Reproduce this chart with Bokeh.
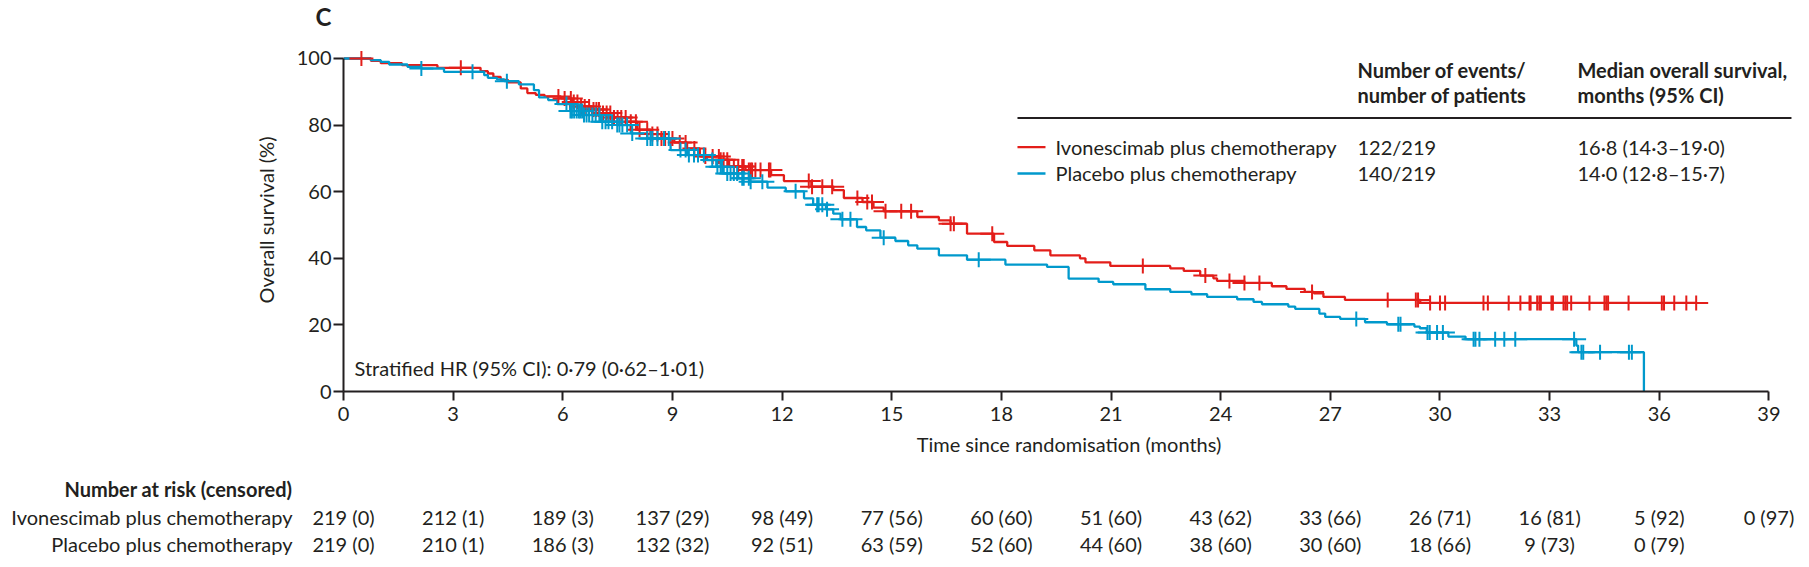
import numpy as np
from bokeh.plotting import figure
from bokeh.models import Range1d, FixedTicker, Label, ColumnDataSource
from bokeh.core.properties import value
from bokeh.embed import file_html
from bokeh.resources import INLINE

# ---------------- data ----------------
ivo_t = [0, 0.75, 1.02, 1.6, 2.57, 3.75, 3.95, 4.1, 4.3, 4.5, 4.85, 5.03, 5.26, 5.5, 5.95,
         6.25, 6.5, 6.8, 7.0, 7.4, 7.75, 8.04, 8.4, 8.7, 9.05, 9.4, 9.75, 10.3, 10.55, 11.0,
         11.7, 12.05, 12.8, 13.4, 13.69, 14.2, 14.5, 14.78, 15.7, 16.29, 16.61, 17.06, 17.8,
         18.16, 18.9, 19.34, 20.15, 20.3, 20.98, 22.62, 22.99, 23.44, 23.8, 23.9, 24.65, 25.4,
         25.8, 26.3, 26.55, 26.81, 27.4, 29.46, 37.01]
ivo_s = [100, 99.3, 98.6, 98.0, 97.2, 96.2, 95.5, 94.5, 93.6, 92.8, 91.0, 89.6, 89.1, 88.6, 88.0,
         86.9, 85.6, 84.7, 83.6, 82.3, 81.0, 78.6, 77.3, 76.0, 74.8, 73.0, 70.6, 69.6, 67.6, 66.5,
         65.0, 63.2, 61.5, 60.5, 58.1, 56.9, 55.2, 54.1, 52.4, 51.4, 50.4, 47.4, 44.9,
         43.7, 42.4, 40.9, 40.0, 38.8, 37.7, 37.0, 36.2, 34.8, 34.0, 33.2, 32.6, 31.6,
         30.8, 29.9, 29.5, 28.4, 27.5, 26.6, 26.6]
ivo_cens = [0.49, 3.21, 5.88,
            6.05, 6.22, 6.3, 6.4, 6.5, 6.6, 6.72, 6.84, 6.92, 6.99, 7.1, 7.2, 7.3, 7.4, 7.5, 7.6,
            7.72, 7.86, 8.0, 8.1, 8.31, 8.45, 8.59, 8.7, 8.8, 9.0,
            9.2, 9.36, 9.6, 9.9, 10.1, 10.27, 10.32, 10.4, 10.5, 10.68, 10.8, 10.91, 10.95, 11.09,
            11.14, 11.18, 11.27, 11.41, 11.64, 11.68,
            12.73, 12.82, 13.1, 13.37, 14.06, 14.33, 14.46, 14.83,
            15.26, 15.53, 16.61, 16.7, 17.75,
            21.87, 23.58, 24.24, 24.65, 25.06, 26.5,
            28.57, 29.34, 29.4, 29.73, 30.0,
            30.14, 31.19, 31.31, 31.88, 32.2, 32.45, 32.48, 32.66, 32.72, 32.76,
            33.05, 33.09, 33.38, 33.43, 33.48, 33.59, 34.09, 34.5, 34.55, 34.6, 35.16,
            36.07, 36.13, 36.41, 36.74, 37.01]

pla_t = [0, 0.75, 1.02, 1.25, 1.75, 2.13, 2.75, 3.85, 3.95, 4.2, 4.4, 4.8, 5.21, 5.35, 5.6, 5.85,
         6.2, 6.58, 7.04, 7.49, 7.86, 8.31, 8.95, 9.4, 9.95, 10.2, 10.4, 10.8, 11.1, 11.6, 12.1,
         12.6, 12.85, 13.2, 13.4, 13.6, 14.05, 14.3, 14.69, 15.1, 15.45, 15.7, 16.29, 17.06,
         18.11, 19.25, 19.84, 20.66, 21.06, 21.94, 22.62, 23.2, 23.63, 24.45, 24.9, 25.13,
         25.85, 26.04, 26.7, 26.86, 27.27, 27.95, 28.55, 29.3, 29.45, 29.64, 30.23, 30.7,
         33.73, 33.78, 35.58]
pla_s = [100, 99.5, 99.0, 98.2, 97.5, 97.0, 96.0, 95.0, 94.2, 93.7, 93.2, 92.2, 90.5, 88.3, 87.5, 86.3,
         84.2, 83.0, 81.0, 80.0, 77.5, 76.0, 72.5, 71.0, 69.5, 67.5, 65.5, 64.0, 63.0, 61.2, 60.1,
         58.0, 56.1, 54.7, 53.4, 51.7, 49.4, 48.4, 46.2, 45.2, 43.9, 42.9, 40.9, 39.6,
         38.1, 37.4, 33.9, 32.9, 32.2, 30.7, 29.9, 29.2, 28.4, 27.7, 26.9, 26.2,
         25.5, 24.8, 23.4, 22.4, 21.8, 20.8, 20.2, 19.5, 19.0, 17.7, 16.5, 15.7,
         13.8, 11.8, 0]
pla_cens = [2.13, 3.53, 4.47,
            6.1, 6.21, 6.25, 6.31, 6.38, 6.44, 6.48, 6.53, 6.58, 6.65, 6.72, 6.81, 6.9, 7.0, 7.08,
            7.17, 7.25, 7.35, 7.49, 7.55, 7.63, 7.76, 7.9, 8.31, 8.4, 8.45, 8.59, 8.77, 8.9,
            9.22, 9.36, 9.45, 9.59, 9.7, 9.86, 10.09, 10.23, 10.32, 10.36, 10.5, 10.59, 10.68,
            10.77, 10.91, 10.95, 11.09, 11.14, 11.46,
            12.37, 12.96, 13.0, 13.1, 13.23, 13.65, 13.87, 14.78, 17.38,
            27.71, 28.86, 28.92, 29.66, 29.72, 29.92,
            30.08, 30.92, 30.97, 31.08, 31.51, 31.76, 32.06,
            33.67, 33.87, 33.92, 34.38, 35.17, 35.25]

risk_times = [0, 3, 6, 9, 12, 15, 18, 21, 24, 27, 30, 33, 36, 39]
ivo_risk = [219, 212, 189, 137, 98, 77, 60, 51, 43, 33, 26, 16, 5, 0]
ivo_risk_cens = [0, 1, 3, 29, 49, 56, 60, 60, 62, 66, 71, 81, 92, 97]
pla_risk = [219, 210, 186, 132, 92, 63, 52, 44, 38, 30, 18, 9, 0]
pla_risk_cens = [0, 1, 3, 32, 51, 59, 60, 60, 60, 60, 66, 73, 79]

x_ticks = list(range(0, 40, 3))
y_ticks = [0, 20, 40, 60, 80, 100]

series_names = ["Ivonescimab plus chemotherapy", "Placebo plus chemotherapy"]
events_text = ["122/219", "140/219"]
median_text = ["16·8 (14·3–19·0)", "14·0 (12·8–15·7)"]
hr_text = "Stratified HR (95% CI): 0·79 (0·62–1·01)"
panel_letter = "C"

# ---------------- style ----------------
FONT = "Lato"
FS = "20px"
INK = "#231f20"
RED = "#e31e1a"
BLUE = "#0099cc"

W = 1808
H_TOP = 40      # strip holding the panel letter
H_MAIN = 438    # survival plot (frame top at page y 48, bottom at 391)
H_RISK = 88     # number-at-risk table

# page-pixel -> data helpers used only to place annotation texts
X0, PXM = 343.0, 36.55     # page x of t=0, px per month
Y0, PXP = 391.0, 3.330     # page y of 0 %, px per percent
def tx(X):
    return (X - X0) / PXM
def sy(Y):
    return (Y0 - Y) / PXP

def bare(fig):
    fig.outline_line_color = None
    fig.xgrid.visible = False
    fig.ygrid.visible = False
    fig.background_fill_color = "white"
    fig.border_fill_color = "white"
    fig.title.visible = False

# ---------------- top strip: panel letter ----------------
top = figure(width=W, height=H_TOP, x_range=Range1d(0, W), y_range=Range1d(H_TOP, 0),
             x_axis_type=None, y_axis_type=None, output_backend="svg", toolbar_location=None,
             min_border=0)
bare(top)
top.text(x=[315], y=[15.5], text=[panel_letter], text_font=value(FONT), text_font_size="24px",
         text_font_style="bold", text_color=INK, text_align="left", text_baseline="middle")

# ---------------- main survival plot ----------------
p = figure(width=W, height=H_MAIN, x_range=Range1d(0, 39.7), y_range=Range1d(0, 103),
           output_backend="svg", toolbar_location=None,
           min_border_left=343, min_border_right=14, min_border_top=8, min_border_bottom=87)
bare(p)

for ax in (p.xaxis[0], p.yaxis[0]):
    ax.axis_line_color = INK
    ax.axis_line_width = 2
    ax.major_tick_line_color = INK
    ax.major_tick_line_width = 2
    ax.major_tick_in = 0
    ax.minor_tick_line_color = None
    ax.major_label_text_font = FONT
    ax.major_label_text_font_size = FS
    ax.major_label_text_color = INK
    ax.axis_label_text_font = FONT
    ax.axis_label_text_font_size = FS
    ax.axis_label_text_font_style = "normal"
    ax.axis_label_text_color = INK

p.xaxis.ticker = FixedTicker(ticks=x_ticks)
p.yaxis.ticker = FixedTicker(ticks=y_ticks)
p.xaxis.bounds = (0, 39)
p.yaxis.bounds = (0, 100)
p.xaxis.major_tick_out = 9
p.yaxis.major_tick_out = 10
p.xaxis.major_label_standoff = 6
p.yaxis.major_label_standoff = 2
p.xaxis.axis_label = "Time since randomisation (months)"
p.yaxis.axis_label = "Overall survival (%)"
p.xaxis.axis_label_standoff = 8
p.yaxis.axis_label_standoff = 16

def surv_at(times, surv, c):
    idx = np.searchsorted(np.asarray(times), np.asarray(c), side="right") - 1
    return np.asarray(surv)[idx]

p.step(ivo_t, ivo_s, mode="after", line_color=RED, line_width=2.3)
p.step(pla_t, pla_s, mode="after", line_color=BLUE, line_width=2.3)

for times, surv, cens, col in ((ivo_t, ivo_s, ivo_cens, RED), (pla_t, pla_s, pla_cens, BLUE)):
    cy = surv_at(times, surv, cens)
    src = ColumnDataSource(dict(x=cens, y=cy))
    p.scatter("x", "y", source=src, marker="dash", size=24, line_color=col, line_width=2)
    p.scatter("x", "y", source=src, marker="dash", size=15, angle=np.pi / 2,
              line_color=col, line_width=2)

def lab(fig, text, x, y, align="left", bold=False, size=FS, baseline="middle"):
    fig.add_layout(Label(x=x, y=y, text=text, text_font=FONT, text_font_size=size,
                         text_color=INK, text_align=align, text_baseline=baseline,
                         text_font_style="bold" if bold else "normal"))

lab(p, "Number of events/", tx(1357), sy(70), bold=True)
lab(p, "number of patients", tx(1357), sy(95), bold=True)
lab(p, "Median overall survival,", tx(1577), sy(70), bold=True)
lab(p, "months (95% CI)", tx(1577), sy(95), bold=True)
p.line([tx(1017), tx(1791)], [sy(117.6), sy(117.6)], line_color=INK, line_width=2)
row_Y = [146.7, 173.0]
for name, ev, med, col, Y in zip(series_names, events_text, median_text, (RED, BLUE), row_Y):
    p.line([tx(1017), tx(1045)], [sy(Y), sy(Y)], line_color=col, line_width=2.3)
    lab(p, name, tx(1055), sy(Y))
    lab(p, ev, tx(1357), sy(Y))
    lab(p, med, tx(1577), sy(Y))

lab(p, hr_text, tx(354), sy(368))

# ---------------- number at risk table (same month scale) ----------------
q = figure(width=W, height=H_RISK, x_range=Range1d(tx(0), tx(W)),
           y_range=Range1d(H_TOP + H_MAIN + H_RISK, H_TOP + H_MAIN),
           x_axis_type=None, y_axis_type=None, output_backend="svg", toolbar_location=None,
           min_border=0)
bare(q)

q.text(x=[tx(292)], y=[488], text=["Number at risk (censored)"], text_font=value(FONT),
       text_font_size=FS, text_font_style="bold", text_color=INK, text_align="right",
       text_baseline="middle")
risk_rows = [(ivo_risk, ivo_risk_cens, 516.7), (pla_risk, pla_risk_cens, 543.5)]
for name, (n, c, Y) in zip(series_names, risk_rows):
    q.text(x=[tx(292)], y=[Y], text=[name], text_font=value(FONT), text_font_size=FS,
           text_color=INK, text_align="right", text_baseline="middle")
    src = ColumnDataSource(dict(x=risk_times[:len(n)], y=[Y] * len(n),
                                t=[f"{a} ({b})" for a, b in zip(n, c)]))
    q.text(x="x", y="y", text="t", source=src, text_font=value(FONT), text_font_size=FS,
           text_color=INK, text_align="center", text_baseline="middle")

open("out.html", "w").write(file_html([top, p, q], INLINE))
